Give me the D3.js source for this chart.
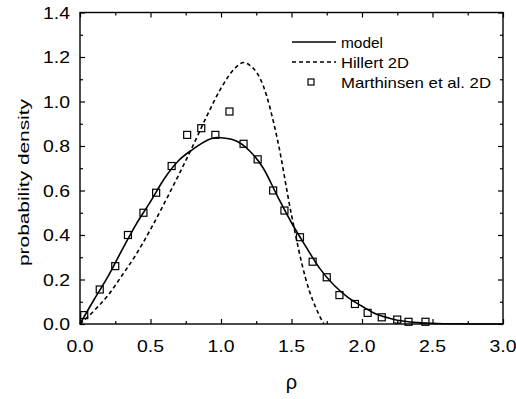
<!DOCTYPE html>
<html>
<head>
<meta charset="utf-8">
<script src="https://cdn.jsdelivr.net/npm/d3@7"></script>
<style>
  body { margin: 0; background: #fff; }
  svg { display: block; font-family: "Liberation Sans", Arial, sans-serif; }
</style>
</head>
<body>
<div id="chart"></div>
<script>
// curves
const modelRho = [0, 0.1, 0.2, 0.3, 0.4, 0.5, 0.6, 0.7, 0.8, 0.9, 0.97, 1.0, 1.1, 1.2, 1.3, 1.4, 1.5, 1.6, 1.7, 1.8, 1.9, 2.0, 2.1, 2.2, 2.3, 2.4, 2.5, 2.6, 2.8, 3.0];
const modelP   = [0, 0.11, 0.215, 0.335, 0.45, 0.55, 0.655, 0.735, 0.785, 0.825, 0.838, 0.837, 0.825, 0.78, 0.70, 0.575, 0.455, 0.35, 0.25, 0.175, 0.12, 0.08, 0.045, 0.025, 0.012, 0.006, 0.003, 0.001, 0, 0];

const hillertRho = [0, 0.1, 0.2, 0.3, 0.4, 0.5, 0.6, 0.7, 0.8, 0.9, 1.0, 1.1, 1.16, 1.2, 1.3, 1.4, 1.5, 1.6, 1.7, 1.73];
const hillertP   = [0, 0.06, 0.13, 0.22, 0.315, 0.425, 0.545, 0.67, 0.80, 0.935, 1.06, 1.15, 1.175, 1.165, 1.07, 0.83, 0.49, 0.205, 0.035, 0];

// Marthinsen et al. 2D points
const marthRho = [0.03, 0.14, 0.25, 0.34, 0.45, 0.54, 0.65, 0.76, 0.86, 0.96, 1.06, 1.16, 1.26, 1.37, 1.45, 1.56, 1.65, 1.75, 1.84, 1.95, 2.04, 2.14, 2.25, 2.33, 2.45];
const marthP   = [0.04, 0.155, 0.26, 0.40, 0.50, 0.59, 0.71, 0.85, 0.88, 0.85, 0.955, 0.81, 0.74, 0.60, 0.51, 0.39, 0.28, 0.21, 0.13, 0.09, 0.05, 0.03, 0.02, 0.01, 0.01];

const xTicks = [0, 0.5, 1.0, 1.5, 2.0, 2.5, 3.0];
const yTicks = [0, 0.2, 0.4, 0.6, 0.8, 1.0, 1.2, 1.4];
const legendLabels = ["model", "Hillert 2D", "Marthinsen et al. 2D"];

const width = 516, height = 399;
const m = { left: 80, right: 503, top: 12.5, bottom: 324 };

const svg = d3.select("#chart").append("svg")
    .attr("width", width)
    .attr("height", height);

const x = d3.scaleLinear().domain([0, 3]).range([m.left, m.right]);
const y = d3.scaleLinear().domain([0, 1.4]).range([m.bottom, m.top]);

// frame
svg.append("rect")
    .attr("x", m.left).attr("y", m.top)
    .attr("width", m.right - m.left).attr("height", m.bottom - m.top)
    .attr("fill", "none").attr("stroke", "#000").attr("stroke-width", 1.4);

// ticks (inward) on all four sides
const xMinor = d3.range(0.25, 3, 0.5);
const yMinor = d3.range(0.1, 1.4, 0.2);

function tickSet(axis, pos, values, size) {
    const g = svg.append("g")
        .attr("transform", pos)
        .call(axis.tickValues(values).tickSize(size).tickFormat(""));
    g.select(".domain").remove();
    g.selectAll("line").attr("stroke-width", 1.2);
    return g;
}
tickSet(d3.axisBottom(x), `translate(0,${m.bottom})`, xTicks, -5);
tickSet(d3.axisBottom(x), `translate(0,${m.bottom})`, xMinor, -3);
tickSet(d3.axisTop(x), `translate(0,${m.top})`, xTicks, -5);
tickSet(d3.axisTop(x), `translate(0,${m.top})`, xMinor, -3);
tickSet(d3.axisLeft(y), `translate(${m.left},0)`, yTicks, -5);
tickSet(d3.axisLeft(y), `translate(${m.left},0)`, yMinor, -3);
tickSet(d3.axisRight(y), `translate(${m.right},0)`, yTicks, -5);
tickSet(d3.axisRight(y), `translate(${m.right},0)`, yMinor, -3);

// tick labels
svg.append("g").selectAll("text")
    .data(xTicks).join("text")
    .attr("x", d => x(d))
    .attr("y", 352)
    .attr("text-anchor", "middle")
    .attr("font-size", 17)
    .attr("textLength", 27)
    .attr("lengthAdjust", "spacingAndGlyphs")
    .text(d => d.toFixed(1));

svg.append("g").selectAll("text")
    .data(yTicks).join("text")
    .attr("x", 70)
    .attr("y", d => y(d) + 6)
    .attr("text-anchor", "end")
    .attr("font-size", 17)
    .attr("textLength", 27)
    .attr("lengthAdjust", "spacingAndGlyphs")
    .text(d => d.toFixed(1));

// axis titles
svg.append("text")
    .attr("x", x(1.5))
    .attr("y", 389)
    .attr("text-anchor", "middle")
    .attr("font-size", 20)
    .text("ρ");

svg.append("text")
    .attr("transform", "translate(29,182.5) rotate(-90)")
    .attr("text-anchor", "middle")
    .attr("font-size", 15.5)
    .attr("textLength", 167)
    .attr("lengthAdjust", "spacingAndGlyphs")
    .text("probability density");

// curves
const line = d3.line()
    .x(d => x(d[0]))
    .y(d => y(d[1]))
    .curve(d3.curveMonotoneX);

svg.append("path")
    .datum(modelRho.map((r, i) => [r, modelP[i]]))
    .attr("d", line)
    .attr("fill", "none")
    .attr("stroke", "#000")
    .attr("stroke-width", 1.6);

svg.append("path")
    .datum(hillertRho.map((r, i) => [r, hillertP[i]]))
    .attr("d", line)
    .attr("fill", "none")
    .attr("stroke", "#000")
    .attr("stroke-width", 1.6)
    .attr("stroke-dasharray", "4,3");

const sq = 7;
svg.append("g").selectAll("rect")
    .data(marthRho.map((r, i) => [r, marthP[i]]))
    .join("rect")
    .attr("x", d => x(d[0]) - sq / 2)
    .attr("y", d => y(d[1]) - sq / 2)
    .attr("width", sq).attr("height", sq)
    .attr("fill", "none")
    .attr("stroke", "#000")
    .attr("stroke-width", 1.2);

// legend
const legend = svg.append("g");
const rows = [42, 62, 82];
legend.append("line")
    .attr("x1", 292).attr("x2", 336).attr("y1", rows[0]).attr("y2", rows[0])
    .attr("stroke", "#000").attr("stroke-width", 1.6);
legend.append("line")
    .attr("x1", 292).attr("x2", 336).attr("y1", rows[1]).attr("y2", rows[1])
    .attr("stroke", "#000").attr("stroke-width", 1.6)
    .attr("stroke-dasharray", "4,3");
legend.append("rect")
    .attr("x", 311 - 3).attr("y", rows[2] - 3)
    .attr("width", 6).attr("height", 6)
    .attr("fill", "none").attr("stroke", "#000").attr("stroke-width", 1.2);

const legendWidths = [42, 68, 150];
legend.selectAll("text")
    .data(legendLabels).join("text")
    .attr("x", 341)
    .attr("y", (d, i) => rows[i] + 5.5)
    .attr("font-size", 15)
    .attr("textLength", (d, i) => legendWidths[i])
    .attr("lengthAdjust", "spacingAndGlyphs")
    .text(d => d);
</script>
</body>
</html>
